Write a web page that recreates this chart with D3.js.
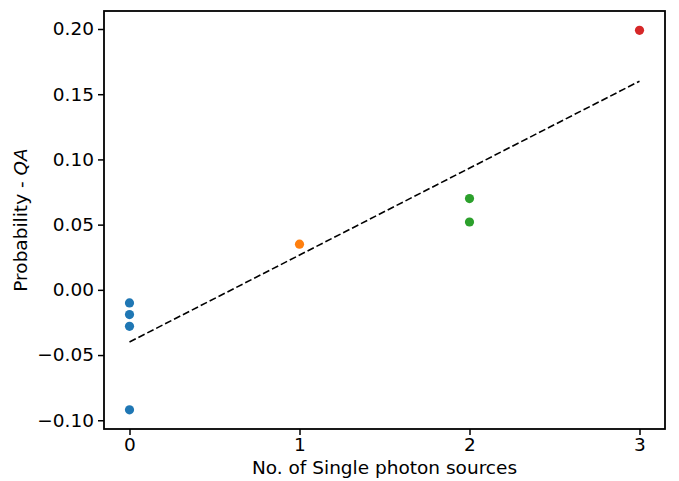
<!DOCTYPE html>
<html>
<head>
<meta charset="utf-8">
<script src="https://cdn.jsdelivr.net/npm/d3@7"></script>
<style>
  body { margin: 0; background: #fff; }
  text { font-family: "DejaVu Sans", sans-serif; fill: #000; }
</style>
</head>
<body>
<div id="chart"></div>
<script>
// values
let sourceCounts = [0, 0, 0, 0, 1, 2, 2, 3];
let probabilities = [-0.010, -0.019, -0.028, -0.092, 0.035, 0.070, 0.052, 0.199];
let groupColors = { 0: '#1f77b4', 1: '#ff7f0e', 2: '#2ca02c', 3: '#d62728' };
let fitLine = [[0, -0.040], [3, 0.160]];
let xTicks = [0, 1, 2, 3];
let yTicks = [-0.10, -0.05, 0.00, 0.05, 0.10, 0.15, 0.20];

let width = 679;
let height = 481;
let margin = { top: 11, right: 14, bottom: 52, left: 104 };
let fontSize = '18.5px';

let svg = d3.select('#chart')
  .append('svg')
  .attr('width', width)
  .attr('height', height);

let x = d3.scaleLinear()
  .domain([-0.15, 3.15])
  .range([margin.left, width - margin.right]);

let y = d3.scaleLinear()
  .domain([-0.1067, 0.2138])
  .range([height - margin.bottom, margin.top]);

let fmt = function(d) { return d3.format('.2f')(d).replace('-', '\u2212'); };

let xAxis = svg.append('g')
  .attr('transform', `translate(0, ${height - margin.bottom})`)
  .call(d3.axisBottom(x).tickValues(xTicks).tickFormat(d3.format('d')).tickSize(6).tickPadding(3));

let yAxis = svg.append('g')
  .attr('transform', `translate(${margin.left}, 0)`)
  .call(d3.axisLeft(y).tickValues(yTicks).tickFormat(fmt).tickSize(6).tickPadding(4));

[xAxis, yAxis].forEach((ax) => {
  ax.attr('font-size', null).attr('font-family', null);
  ax.select('.domain').remove();
  ax.selectAll('line').attr('stroke', '#000').attr('stroke-width', 1.5);
  ax.selectAll('text').style('font-size', fontSize);
});

// frame
svg.append('rect')
  .attr('x', margin.left)
  .attr('y', margin.top)
  .attr('width', width - margin.left - margin.right)
  .attr('height', height - margin.top - margin.bottom)
  .attr('fill', 'none')
  .attr('stroke', '#000')
  .attr('stroke-width', 1.8);

let line = d3.line()
  .x(function(d) { return x(d[0]); })
  .y(function(d) { return y(d[1]); });

svg.append('path')
  .datum(fitLine)
  .attr('d', line)
  .attr('fill', 'none')
  .attr('stroke', '#000')
  .attr('stroke-width', 1.6)
  .attr('stroke-dasharray', '7,3');

svg.selectAll('circle.pt')
  .data(probabilities)
  .enter()
  .append('circle')
  .classed('pt', true)
  .attr('cx', function(d, i) { return x(sourceCounts[i]); })
  .attr('cy', function(d) { return y(d); })
  .attr('r', 4.6)
  .attr('fill', function(d, i) { return groupColors[sourceCounts[i]]; });

svg.append('text')
  .attr('x', (margin.left + width - margin.right) / 2)
  .attr('y', 474)
  .attr('text-anchor', 'middle')
  .style('font-size', fontSize)
  .text('No. of Single photon sources');

let ylab = svg.append('text')
  .attr('transform', `translate(27, ${(margin.top + height - margin.bottom) / 2}) rotate(-90)`)
  .attr('text-anchor', 'middle')
  .style('font-size', fontSize);
ylab.append('tspan').text('Probability - ');
ylab.append('tspan').style('font-style', 'italic').text('QA');
</script>
</body>
</html>
